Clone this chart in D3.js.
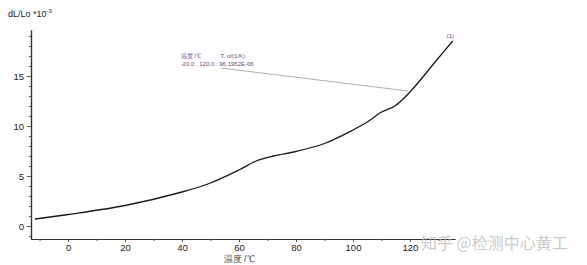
<!DOCTYPE html>
<html>
<head>
<meta charset="utf-8">
<script src="https://cdn.jsdelivr.net/npm/d3@7"></script>
<style>
  body { margin: 0; background: #fff; }
  svg { display: block; font-family: Arial, "Liberation Sans", sans-serif; }
</style>
</head>
<body>
<div id="container"></div>
<script>
// curve: temperature (°C) vs dL/Lo (*10^-3)
const temps = [-11.6, 0, 20, 40, 50, 60, 66, 72, 80, 90, 100, 105, 110, 114.7, 120, 129.4, 135];
const dlValues = [0.7, 1.15, 2.05, 3.4, 4.3, 5.6, 6.5, 7.0, 7.45, 8.25, 9.6, 10.4, 11.4, 12.0, 13.4, 16.6, 18.5];
const xTicks = [0, 20, 40, 60, 80, 100, 120];
const xMinorTicks = [-10, 10, 30, 50, 70, 90, 110, 130];
const yTicks = [0, 5, 10, 15];
const yMinorTicks = d3.range(-1, 20, 1);
const annoHeader = ['温度 /℃', 'T. α/(1/K)'];
const annoValue = '-20.0 , 120.0 : 96.1952E-06';
const annoAt = { t: 120, dl: 13.5 };

const width = 587, height = 265;
const margin = {top: 30, right: 132, bottom: 26, left: 31};
const innerW = width - margin.left - margin.right;
const innerH = height - margin.top - margin.bottom;

const svg = d3.select('#container')
  .append('svg')
  .attr('width', width)
  .attr('height', height);

const xScale = d3.scaleLinear()
  .domain([-13, 135.8])
  .range([0, innerW]);

const yScale = d3.scaleLinear()
  .domain([-1.3, 19.6])
  .range([innerH, 0]);

const g = svg.append('g')
  .attr('transform', `translate(${margin.left}, ${margin.top})`);

//x axis
g.append('g')
  .attr('transform', `translate(0, ${innerH})`)
  .call(d3.axisBottom(xScale).tickValues(xTicks).tickSize(3).tickPadding(2).tickSizeOuter(0));

g.append('g')
  .attr('transform', `translate(0, ${innerH})`)
  .call(d3.axisBottom(xScale).tickValues(xMinorTicks).tickSize(2).tickFormat('').tickSizeOuter(0));

//y axis
g.append('g')
  .call(d3.axisLeft(yScale).tickValues(yTicks).tickSize(4).tickPadding(3).tickSizeOuter(0));

g.append('g')
  .call(d3.axisLeft(yScale).tickValues(yMinorTicks).tickSize(2).tickFormat('').tickSizeOuter(0));

g.selectAll('.domain').attr('stroke', '#3a3035').attr('stroke-width', 1.2);
g.selectAll('.tick line').attr('stroke', '#555');
g.selectAll('.tick text').attr('fill', '#222').style('font-size', '9.5px');

//axis titles
const yTitle = svg.append('text')
  .attr('x', 8)
  .attr('y', 17)
  .attr('fill', '#222')
  .style('font-size', '9px');
yTitle.append('tspan').text('dL/Lo *10');
yTitle.append('tspan').attr('dy', -4).style('font-size', '6px').text('-3');

svg.append('text')
  .attr('x', margin.left + xScale(60))
  .attr('y', 262)
  .attr('text-anchor', 'middle')
  .attr('fill', '#444')
  .style('font-size', '9px')
  .text('温度 /℃');

//curve
const line = d3.line()
  .x((d, i) => xScale(temps[i]))
  .y(d => yScale(d))
  .curve(d3.curveCatmullRom.alpha(0.5));

g.append('path')
  .datum(dlValues)
  .attr('d', line)
  .attr('fill', 'none')
  .attr('stroke', '#1a1a1a')
  .attr('stroke-width', 1.3);

//curve label
g.append('text')
  .attr('x', xScale(temps[temps.length - 1]) - 6)
  .attr('y', yScale(dlValues[dlValues.length - 1]) - 3)
  .attr('fill', '#7a3d7a')
  .style('font-size', '6px')
  .text('(1)');

//annotation
const annoX = xScale(39.5), annoY = 28;
g.append('text')
  .attr('x', annoX)
  .attr('y', annoY)
  .attr('fill', '#7a3d7a')
  .style('font-size', '6px')
  .text(annoHeader[0]);
g.append('text')
  .attr('x', annoX + 40)
  .attr('y', annoY)
  .attr('fill', '#7a3d7a')
  .style('font-size', '6px')
  .text(annoHeader[1]);
g.append('text')
  .attr('x', annoX)
  .attr('y', annoY + 8)
  .attr('fill', '#7a3d7a')
  .style('font-size', '6px')
  .text(annoValue);

g.append('line')
  .attr('x1', annoX + 40)
  .attr('y1', annoY + 10)
  .attr('x2', xScale(annoAt.t) - 2)
  .attr('y2', yScale(annoAt.dl))
  .attr('stroke', '#999')
  .attr('stroke-width', 0.8);

//watermark
svg.append('text')
  .attr('x', 421)
  .attr('y', 249)
  .attr('fill', '#bbb')
  .attr('fill-opacity', 0.8)
  .style('font-family', '"Noto Sans CJK SC", sans-serif')
  .style('font-size', '16px')
  .text('知乎 @检测中心黄工');
</script>
</body>
</html>
